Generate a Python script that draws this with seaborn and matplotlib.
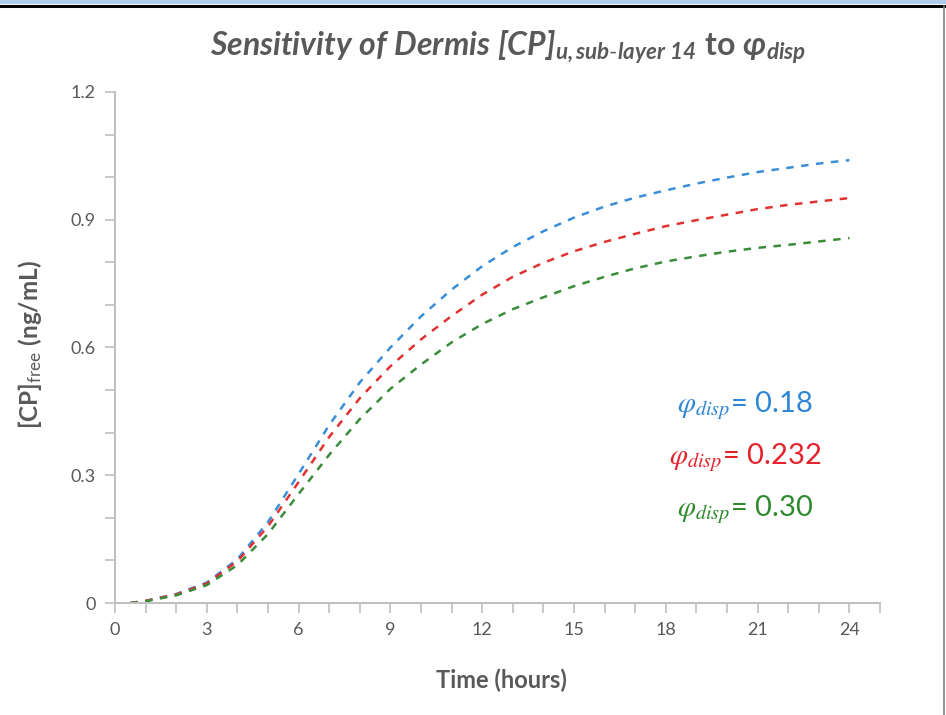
import numpy as np
import pandas as pd
import matplotlib
matplotlib.use("Agg")
import matplotlib.pyplot as plt
import seaborn as sns
from matplotlib.ticker import MultipleLocator
from matplotlib.lines import Line2D
from matplotlib.patches import Rectangle

# time points (hours)
time = [0.5, 1, 2, 3, 4, 5, 6, 7, 8, 9, 10, 11, 12, 13, 14, 15, 16, 17, 18, 19, 20, 21, 22, 23, 24]

# [CP]free (ng/mL), one list per phi_disp value
cp_018 = [0.0, 0.005, 0.021, 0.048, 0.103, 0.190, 0.303, 0.418, 0.518, 0.600, 0.673, 0.736, 0.791,
          0.836, 0.873, 0.905, 0.931, 0.952, 0.969, 0.985, 0.999, 1.012, 1.022, 1.032, 1.040]
cp_0232 = [0.0, 0.005, 0.020, 0.046, 0.098, 0.180, 0.284, 0.390, 0.481, 0.556, 0.619, 0.674, 0.724,
           0.766, 0.799, 0.826, 0.848, 0.867, 0.885, 0.899, 0.912, 0.925, 0.935, 0.943, 0.951]
cp_030 = [0.0, 0.004, 0.018, 0.042, 0.089, 0.162, 0.256, 0.348, 0.432, 0.503, 0.560, 0.612, 0.655,
          0.690, 0.718, 0.744, 0.766, 0.786, 0.802, 0.814, 0.825, 0.834, 0.841, 0.849, 0.857]

labels = ["0.18", "0.232", "0.30"]
line_colors = {"0.18": "#3a8ed8", "0.232": "#e03232", "0.30": "#3a8c3a"}
text_colors = {"0.18": "#2e86d6", "0.232": "#e3232b", "0.30": "#2f8a2f"}

df = pd.DataFrame({
    "Time": time * 3,
    "CP": cp_018 + cp_0232 + cp_030,
    "phi": [labels[0]] * len(time) + [labels[1]] * len(time) + [labels[2]] * len(time),
})

sns.set_style("white")
plt.rcParams["font.family"] = ["Lato", "DejaVu Sans"]
plt.rcParams["mathtext.fontset"] = "custom"
plt.rcParams["mathtext.rm"] = "Lato"
plt.rcParams["mathtext.bf"] = "Lato:bold"
plt.rcParams["mathtext.it"] = "STIXGeneral:italic"
plt.rcParams["mathtext.bfit"] = "Lato:italic:bold"
plt.rcParams["mathtext.fallback"] = "stix"

fig = plt.figure(figsize=(9.46, 7.15), dpi=100)
ax = fig.add_axes([115 / 946, 112 / 715, 765 / 946, 511 / 715])

dash = (3.0, 3.0)
sns.lineplot(data=df, x="Time", y="CP", hue="phi", palette=line_colors, style="phi",
             dashes={k: dash for k in labels}, legend=False, linewidth=1.8, ax=ax)

ax.set_xlim(0, 25)
ax.set_ylim(0, 1.2)
ax.xaxis.set_minor_locator(MultipleLocator(1))
ax.yaxis.set_minor_locator(MultipleLocator(0.1))
ax.set_xticks(range(0, 25, 3))
ax.set_xticklabels([str(v) for v in range(0, 25, 3)])
ax.set_yticks([0, 0.3, 0.6, 0.9, 1.2])
ax.set_yticklabels(["0", "0.3", "0.6", "0.9", "1.2"])

grey = "#bfbfbf"
for s in ["top", "right"]:
    ax.spines[s].set_visible(False)
for s in ["left", "bottom"]:
    ax.spines[s].set_color(grey)
    ax.spines[s].set_linewidth(1.4)
ax.tick_params(which="both", direction="out", length=7, width=1.2, color=grey,
               labelsize=13, labelcolor="#595959", pad=7)
ax.tick_params(axis="both", which="both", left=True, bottom=True)
ax.set_xlabel("")
ax.set_ylabel("")

# title
fig.text(508 / 946, 1 - 47 / 715,
         r"$\mathbfit{Sensitivity\ of\ Dermis\ [CP]}_{\mathbfit{u,sub\text{-}layer\ 14}}"
         r"\ \mathbf{to}\ \mathbfit{\varphi}_{\mathbfit{disp}}$",
         ha="center", va="center", fontsize=23, color="#595959")

fig.text(501 / 946, 1 - 680 / 715, "Time (hours)", ha="center", va="center",
         fontsize=17, fontweight="bold", color="#595959")
fig.text(30 / 946, 1 - 345 / 715, r"[CP]$_{\mathrm{free}}$ (ng/mL)", ha="center", va="center",
         rotation=90, fontsize=17.5, fontweight="bold", color="#595959")

# phi_disp labels
for lab, y in zip(labels, [0.464, 0.342, 0.220]):
    ax.text(20.6, y, r"$\mathit{\varphi}_{\mathit{disp}}$" + "= " + lab, ha="center", va="center",
            fontsize=21, color=text_colors[lab])

# frame of the screenshot
fig.add_artist(Rectangle((0, 1 - 4 / 715), 1, 4 / 715, transform=fig.transFigure,
                         facecolor="#aecbeb", edgecolor="none"))
fig.add_artist(Line2D([0, 1], [1 - 6 / 715, 1 - 6 / 715], transform=fig.transFigure,
                      color="black", linewidth=2.2))
fig.add_artist(Line2D([944 / 946, 944 / 946], [0, 1 - 6 / 715], transform=fig.transFigure,
                      color="#7f7f7f", linewidth=1.2))

fig.savefig("out.png", dpi=100)
